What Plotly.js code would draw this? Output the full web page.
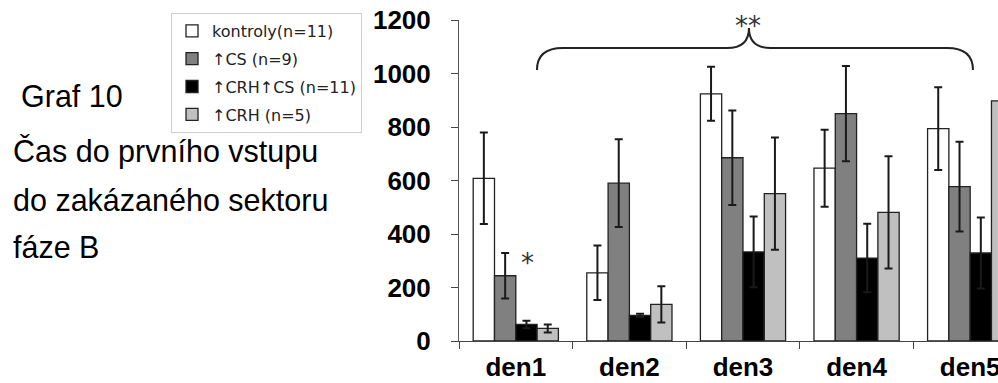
<!DOCTYPE html>
<html>
<head>
<meta charset="utf-8">
<script src="https://cdn.plot.ly/plotly-3.0.1.min.js"></script>
<style>
html,body{margin:0;padding:0;background:#fff;overflow:hidden;}
#chart{width:998px;height:383px;}
</style>
</head>
<body>
<div id="chart"></div>
<script>
// ---- data ----
var days = ["den1", "den2", "den3", "den4", "den5"];
var seriesNames = ["kontroly(n=11)", "\u2191CS (n=9)", "\u2191CRH\u2191CS (n=11)", "\u2191CRH (n=5)"];
var kontroly = [608, 255, 924, 646, 794];
var kontrolyErr = [171, 102, 101, 144, 155];
var cs = [244, 590, 685, 850, 577];
var csErr = [85, 164, 177, 178, 168];
var crhCs = [62, 96, 333, 310, 329];
var crhCsErr = [14, 6, 132, 128, 133];
var crh = [47, 137, 551, 481, 898];
var crhErr = [15, 68, 210, 210, 218];
var yTicks = [0, 200, 400, 600, 800, 1000, 1200];
var sideText = ["Graf 10", "\u010Cas do prvn\u00EDho vstupu", "do zak\u00E1zan\u00E9ho sektoru", "f\u00E1ze B"];

// ---- styles ----
var colors = ["#ffffff", "#808080", "#000000", "#c0c0c0"];
var values = [kontroly, cs, crhCs, crh];
var errs = [kontrolyErr, csErr, crhCsErr, crhErr];

var traces = values.map(function (v, i) {
  return {
    type: "bar",
    name: seriesNames[i],
    legendgroup: "g" + i,
    x: days,
    y: v,
    marker: { color: colors[i], line: { color: "#222", width: 1.3 } },
    error_y: { type: "data", array: errs[i], visible: true, color: "#1a1a1a", thickness: 2, width: 4 },
    hoverinfo: "skip"
  };
});

var tickFont = { family: "Liberation Sans, Arial, sans-serif", size: 26, weight: "bold", color: "#000" };
var sideFont = { family: "Liberation Sans, Arial, sans-serif", size: 30.5, color: "#000" };
var starFont = { family: "DejaVu Sans, sans-serif", size: 26, color: "#333" };

var sideX = [-0.8163, -0.8312, -0.8312, -0.8312];
var sideY = [0.7617, 0.5913, 0.4386, 0.2913];
var annotations = sideText.map(function (t, i) {
  return { text: t, xref: "paper", yref: "paper", x: sideX[i], y: sideY[i],
           xanchor: "left", yanchor: "middle", showarrow: false, font: sideFont };
});
annotations.push({ text: "**", xref: "x", yref: "y", x: 2.048, y: 1178, showarrow: false, font: starFont });
annotations.push({ text: "*", xref: "x", yref: "y", x: 0.099, y: 293, showarrow: false, font: starFont });

var bracePath = "M 0.1866,1013 Q 0.1866,1095 0.4155,1095 L 1.8592,1095 Q 2.0528,1095 2.0528,1170 " +
                "Q 2.0528,1095 2.2465,1095 L 3.7958,1095 Q 4.0246,1095 4.0246,1013";

var layout = {
  width: 998, height: 383,
  margin: { l: 459, r: 0, t: 20, b: 42, autoexpand: false },
  paper_bgcolor: "#fff", plot_bgcolor: "#fff",
  barmode: "group", bargap: 0.25, bargroupgap: 0,
  showlegend: true,
  legend: {
    x: -0.5343, y: 1.0218, xanchor: "left", yanchor: "top",
    bgcolor: "#fff", bordercolor: "#cfcfcf", borderwidth: 1,
    font: { family: "DejaVu Sans, sans-serif", size: 16, color: "#222" },
    traceorder: "grouped", tracegroupgap: 4, itemclick: false
  },
  xaxis: {
    type: "category", range: [-0.5, 4.245], autorange: false,
    showline: true, linecolor: "#444", linewidth: 1,
    ticks: "outside", tickson: "boundaries", ticklen: 7, tickcolor: "#444",
    tickfont: tickFont, ticklabelstandoff: 3, showgrid: false, zeroline: false, fixedrange: true
  },
  yaxis: {
    range: [0, 1200], autorange: false, tickvals: yTicks,
    showline: true, linecolor: "#555", linewidth: 1,
    ticks: "outside", ticklen: 7, tickcolor: "#444",
    tickfont: tickFont, ticklabelstandoff: 15, showgrid: false, zeroline: false, fixedrange: true
  },
  shapes: [{ type: "path", xref: "x", yref: "y", path: bracePath, line: { color: "#222", width: 2 }, layer: "above" }],
  annotations: annotations
};

Plotly.newPlot("chart", traces, layout, { staticPlot: true, displayModeBar: false });
</script>
</body>
</html>
